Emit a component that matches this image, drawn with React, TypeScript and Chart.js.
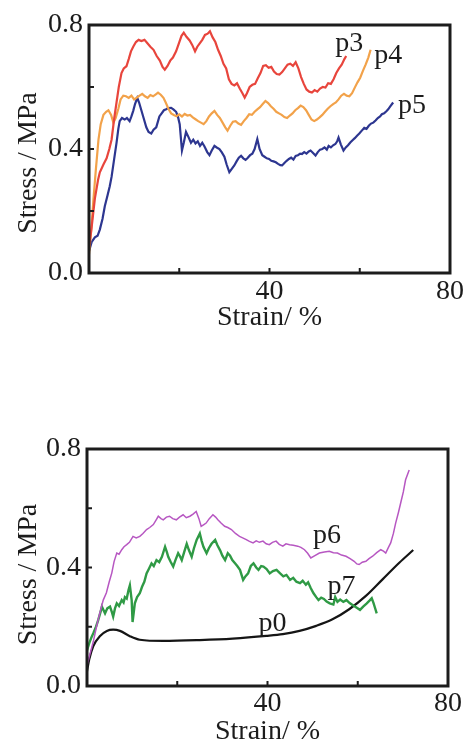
import React, { useEffect, useRef } from "react";
import { Chart, registerables } from "chart.js";

Chart.register(...registerables);

// ---------- Top panel data (Strain %, Stress MPa) ----------
const p3X = [0, 0.6, 1.3, 2.0, 2.4, 3.2, 3.9, 4.5, 5.0, 5.6, 6.1, 6.6, 7.2, 7.7, 8.3, 8.8, 9.3, 9.8, 10.4, 11.0, 11.6, 12.3, 12.9, 13.6, 14.3, 15.0, 15.7, 16.3, 16.8, 17.4, 18.0, 18.6, 19.3, 19.9, 20.5, 21.0, 21.6, 22.3, 22.9, 23.5, 24.0, 24.5, 25.1, 25.7, 26.3, 26.8, 27.4, 28.0, 28.6, 29.2, 29.8, 30.4, 31.0, 31.6, 32.2, 32.8, 33.4, 34.0, 34.5, 35.0, 35.6, 36.2, 36.8, 37.4, 38.0, 38.6, 39.2, 39.8, 40.4, 41.0, 41.6, 42.2, 42.8, 43.4, 44.0, 44.6, 45.2, 45.8, 46.4, 47.0, 47.6, 48.2, 48.8, 49.4, 50.0, 50.6, 51.2, 51.8, 52.4, 53.0, 53.6, 54.2, 54.8, 55.4, 56.0, 56.6, 57.0];
const p3Y = [0.08, 0.15, 0.24, 0.30, 0.325, 0.35, 0.37, 0.40, 0.43, 0.50, 0.55, 0.60, 0.645, 0.66, 0.667, 0.69, 0.715, 0.73, 0.745, 0.752, 0.748, 0.752, 0.742, 0.73, 0.72, 0.70, 0.685, 0.665, 0.656, 0.668, 0.685, 0.695, 0.715, 0.74, 0.765, 0.775, 0.762, 0.75, 0.735, 0.715, 0.73, 0.74, 0.752, 0.768, 0.772, 0.78, 0.76, 0.745, 0.72, 0.70, 0.675, 0.66, 0.625, 0.61, 0.605, 0.612, 0.595, 0.58, 0.566, 0.58, 0.60, 0.607, 0.61, 0.628, 0.645, 0.668, 0.67, 0.662, 0.665, 0.65, 0.642, 0.64, 0.648, 0.66, 0.672, 0.675, 0.668, 0.68, 0.66, 0.632, 0.61, 0.592, 0.585, 0.582, 0.59, 0.585, 0.595, 0.60, 0.598, 0.612, 0.61, 0.625, 0.645, 0.66, 0.672, 0.69, 0.70];

const p4X = [0, 0.5, 1.0, 1.5, 2.1, 2.6, 3.2, 3.8, 4.3, 4.9, 5.4, 5.9, 6.5, 7.0, 7.6, 8.2, 8.8, 9.4, 10.0, 10.6, 11.2, 11.8, 12.4, 13.0, 13.6, 14.2, 14.8, 15.3, 15.9, 16.5, 17.0, 17.6, 18.2, 18.8, 19.4, 20.0, 20.6, 21.2, 21.8, 22.4, 23.0, 23.6, 24.2, 24.8, 25.4, 26.0, 26.6, 27.2, 27.8, 28.4, 29.0, 29.6, 30.2, 30.7, 31.3, 31.9, 32.5, 33.1, 33.7, 34.3, 34.9, 35.5, 36.1, 36.7, 37.3, 37.9, 38.5, 39.1, 39.7, 40.3, 40.9, 41.5, 42.1, 42.7, 43.3, 43.9, 44.5, 45.1, 45.7, 46.3, 46.9, 47.5, 48.1, 48.7, 49.3, 49.9, 50.5, 51.1, 51.7, 52.3, 52.9, 53.5, 54.1, 54.7, 55.3, 55.9, 56.5, 57.1, 57.7, 58.3, 58.9, 59.5, 60.1, 60.7, 61.3, 61.9, 62.4];
const p4Y = [0.06, 0.14, 0.24, 0.33, 0.43, 0.48, 0.51, 0.52, 0.525, 0.51, 0.485, 0.50, 0.53, 0.56, 0.572, 0.57, 0.565, 0.572, 0.56, 0.566, 0.572, 0.578, 0.57, 0.565, 0.574, 0.57, 0.576, 0.582, 0.575, 0.565, 0.55, 0.53, 0.515, 0.51, 0.506, 0.512, 0.505, 0.513, 0.508, 0.51, 0.502, 0.496, 0.49, 0.485, 0.48, 0.49, 0.505, 0.515, 0.523, 0.51, 0.50, 0.485, 0.47, 0.459, 0.475, 0.488, 0.49, 0.482, 0.478, 0.49, 0.50, 0.512, 0.51, 0.52, 0.528, 0.535, 0.545, 0.555, 0.548, 0.538, 0.53, 0.52, 0.515, 0.51, 0.503, 0.50, 0.508, 0.515, 0.525, 0.532, 0.54, 0.535, 0.525, 0.51, 0.495, 0.49, 0.495, 0.502, 0.51, 0.52, 0.53, 0.538, 0.545, 0.55, 0.56, 0.572, 0.578, 0.572, 0.57, 0.58, 0.598, 0.615, 0.63, 0.652, 0.672, 0.695, 0.72];

const p5X = [0, 0.6, 1.3, 1.9, 2.4, 3.0, 3.5, 4.1, 4.6, 5.0, 5.5, 6.1, 6.5, 6.8, 7.3, 7.9, 8.4, 9.0, 9.4, 9.8, 10.2, 10.7, 11.1, 11.6, 12.1, 12.7, 13.2, 13.8, 14.3, 14.9, 15.3, 15.6, 16.1, 16.6, 17.1, 17.6, 18.2, 18.7, 19.3, 19.7, 20.1, 20.6, 21.0, 21.5, 22.0, 22.6, 23.1, 23.6, 24.1, 24.6, 25.1, 25.6, 26.2, 26.7, 27.2, 27.8, 28.3, 28.9, 29.4, 30.0, 30.5, 31.1, 31.6, 32.2, 32.7, 33.2, 33.7, 34.2, 34.7, 35.1, 35.7, 36.2, 36.7, 37.3, 37.8, 38.4, 38.9, 39.4, 39.9, 40.4, 40.9, 41.4, 41.9, 42.4, 42.8, 43.3, 43.8, 44.3, 44.8, 45.3, 45.8, 46.3, 46.8, 47.2, 47.7, 48.2, 48.7, 49.1, 49.6, 50.2, 50.7, 51.2, 51.7, 52.2, 52.7, 53.1, 53.6, 54.1, 54.6, 55.0, 55.3, 55.8, 56.4, 56.9, 57.4, 57.9, 58.4, 58.9, 59.4, 59.9, 60.5, 61.0, 61.5, 62.0, 62.5, 63.0, 63.5, 64.0, 64.5, 64.9, 65.4, 65.9, 66.3, 66.8, 67.4];
const p5Y = [0.07, 0.10, 0.115, 0.12, 0.14, 0.175, 0.215, 0.25, 0.28, 0.31, 0.36, 0.42, 0.465, 0.49, 0.50, 0.495, 0.50, 0.49, 0.505, 0.523, 0.545, 0.565, 0.55, 0.525, 0.50, 0.47, 0.455, 0.45, 0.462, 0.47, 0.49, 0.505, 0.515, 0.525, 0.528, 0.532, 0.533, 0.528, 0.52, 0.505, 0.48, 0.395, 0.42, 0.455, 0.44, 0.42, 0.43, 0.418, 0.425, 0.41, 0.42, 0.408, 0.39, 0.38, 0.395, 0.41, 0.405, 0.40, 0.39, 0.375, 0.35, 0.325, 0.335, 0.347, 0.36, 0.372, 0.378, 0.37, 0.365, 0.37, 0.38, 0.385, 0.40, 0.432, 0.40, 0.38, 0.375, 0.37, 0.368, 0.362, 0.36, 0.357, 0.352, 0.348, 0.347, 0.355, 0.362, 0.368, 0.372, 0.366, 0.378, 0.38, 0.385, 0.384, 0.39, 0.385, 0.392, 0.395, 0.388, 0.379, 0.39, 0.398, 0.40, 0.405, 0.398, 0.41, 0.405, 0.412, 0.416, 0.425, 0.437, 0.415, 0.395, 0.405, 0.412, 0.421, 0.428, 0.435, 0.443, 0.45, 0.46, 0.468, 0.465, 0.475, 0.482, 0.485, 0.492, 0.50, 0.505, 0.512, 0.515, 0.522, 0.528, 0.538, 0.55];

// ---------- Bottom panel data ----------
const p6X = [0, 0.7, 1.4, 2.1, 2.9, 3.6, 4.3, 4.9, 5.5, 6.0, 6.6, 7.1, 7.7, 8.2, 8.8, 9.4, 10.2, 10.9, 11.7, 12.4, 13.2, 13.9, 14.7, 15.3, 15.8, 16.4, 16.9, 17.6, 18.3, 19.0, 19.8, 20.5, 21.3, 22.0, 22.8, 23.5, 24.2, 24.8, 25.3, 25.9, 26.4, 27.1, 27.9, 28.5, 29.0, 29.7, 30.5, 31.2, 32.0, 32.9, 33.8, 34.5, 35.3, 36.0, 36.8, 37.5, 38.2, 39.0, 39.7, 40.4, 41.1, 41.9, 42.6, 43.4, 44.1, 44.9, 45.7, 46.7, 47.4, 48.2, 48.9, 49.6, 50.5, 51.5, 52.6, 53.7, 54.6, 55.5, 56.4, 57.4, 58.3, 59.2, 59.8, 60.3, 61.0, 61.8, 62.5, 63.3, 64.2, 65.1, 65.7, 66.2, 66.8, 67.3, 67.9, 68.4, 69.0, 69.5, 70.1, 70.6, 71.4];
const p6Y = [0.07, 0.11, 0.15, 0.20, 0.25, 0.29, 0.315, 0.35, 0.382, 0.42, 0.449, 0.445, 0.46, 0.47, 0.477, 0.485, 0.505, 0.50, 0.505, 0.515, 0.528, 0.535, 0.545, 0.56, 0.573, 0.565, 0.561, 0.57, 0.573, 0.565, 0.561, 0.57, 0.578, 0.568, 0.573, 0.58, 0.589, 0.565, 0.539, 0.545, 0.55, 0.565, 0.578, 0.57, 0.561, 0.55, 0.539, 0.535, 0.528, 0.515, 0.505, 0.50, 0.494, 0.488, 0.483, 0.49, 0.485, 0.489, 0.48, 0.477, 0.485, 0.489, 0.478, 0.472, 0.48, 0.477, 0.475, 0.472, 0.468, 0.46, 0.448, 0.432, 0.44, 0.449, 0.452, 0.455, 0.45, 0.449, 0.442, 0.438, 0.43, 0.421, 0.412, 0.41, 0.418, 0.421, 0.43, 0.438, 0.45, 0.46, 0.455, 0.449, 0.468, 0.483, 0.515, 0.55, 0.585, 0.617, 0.655, 0.696, 0.729];

const p7X = [0, 0.5, 1.0, 1.4, 2.0, 2.5, 3.0, 3.3, 3.7, 4.0, 4.5, 5.1, 5.5, 5.8, 6.2, 6.6, 7.1, 7.7, 8.1, 8.4, 8.8, 9.2, 9.5, 9.9, 10.1, 10.6, 11.1, 11.7, 12.2, 12.7, 13.2, 13.7, 14.3, 14.8, 15.4, 16.0, 16.6, 17.3, 17.7, 18.0, 18.5, 19.1, 19.6, 20.2, 20.6, 21.0, 21.5, 22.1, 22.6, 23.2, 23.7, 24.3, 25.0, 25.4, 25.8, 26.5, 27.0, 27.6, 28.4, 28.9, 29.5, 30.0, 30.6, 31.2, 31.7, 32.2, 32.8, 33.3, 33.9, 34.6, 35.1, 35.7, 36.3, 36.9, 37.5, 38.0, 38.6, 39.1, 39.8, 40.5, 41.2, 42.0, 42.8, 43.5, 44.2, 45.0, 45.7, 46.4, 47.2, 47.8, 48.5, 49.0, 49.6, 50.2, 50.8, 51.3, 51.9, 52.5, 53.1, 53.8, 54.6, 55.0, 55.5, 56.1, 56.8, 57.5, 58.2, 59.0, 59.7, 60.5, 61.2, 62.0, 62.6, 63.1, 63.5, 63.8, 64.2];
const p7Y = [0.12, 0.145, 0.165, 0.178, 0.20, 0.223, 0.25, 0.268, 0.255, 0.245, 0.262, 0.268, 0.25, 0.234, 0.262, 0.279, 0.27, 0.29, 0.282, 0.30, 0.295, 0.324, 0.34, 0.29, 0.216, 0.279, 0.30, 0.313, 0.335, 0.352, 0.38, 0.395, 0.414, 0.405, 0.425, 0.418, 0.436, 0.47, 0.452, 0.436, 0.42, 0.403, 0.425, 0.448, 0.438, 0.425, 0.45, 0.48, 0.458, 0.436, 0.465, 0.493, 0.515, 0.49, 0.47, 0.448, 0.465, 0.48, 0.493, 0.475, 0.458, 0.44, 0.425, 0.448, 0.44, 0.425, 0.414, 0.405, 0.392, 0.358, 0.37, 0.38, 0.405, 0.414, 0.40, 0.392, 0.405, 0.403, 0.395, 0.38, 0.388, 0.392, 0.38, 0.37, 0.375, 0.358, 0.365, 0.352, 0.347, 0.355, 0.342, 0.35, 0.33, 0.313, 0.30, 0.29, 0.298, 0.294, 0.285, 0.279, 0.275, 0.30, 0.284, 0.292, 0.284, 0.29, 0.28, 0.272, 0.265, 0.257, 0.268, 0.279, 0.288, 0.296, 0.28, 0.265, 0.245];

const p0X = [0, 0.5, 1.4, 2.9, 4.4, 5.8, 7.3, 9.5, 11.7, 16.9, 25, 32.3, 39.7, 43.4, 47.1, 50.8, 54.4, 58.1, 61.8, 65.5, 69.2, 72.3];
const p0Y = [0.05, 0.09, 0.135, 0.169, 0.186, 0.19, 0.186, 0.168, 0.156, 0.152, 0.155, 0.16, 0.169, 0.175, 0.186, 0.203, 0.225, 0.259, 0.304, 0.36, 0.416, 0.459];

// tick values
const X_MINOR = [20, 40, 60];
const Y_MINOR = [0.2, 0.4, 0.6];
const X_LABELED = [40, 80];
const Y_LABELED = [0, 0.4, 0.8];

const SERIF = "'Liberation Serif', 'Times New Roman', Times, serif";
const INK = "#1c1c1c";
const NB = "\u00a0";

const pts = (xs: number[], ys: number[]) => xs.map((x, i) => ({ x, y: ys[i] }));

const framePlugin = {
  id: "frame",
  afterDatasetsDraw(chart: any, _args: any, opts: any) {
    const { ctx, chartArea: a, scales } = chart;
    ctx.save();
    ctx.strokeStyle = INK;
    ctx.lineWidth = 3;
    ctx.strokeRect(a.left, a.top, a.right - a.left, a.bottom - a.top);
    ctx.lineWidth = 2;
    ctx.beginPath();
    for (const v of X_MINOR) {
      const px = scales.x.getPixelForValue(v);
      ctx.moveTo(px, a.bottom);
      ctx.lineTo(px, a.bottom - 5);
    }
    for (const v of Y_MINOR) {
      const py = scales.y.getPixelForValue(v);
      ctx.moveTo(a.left, py);
      ctx.lineTo(a.left + 5, py);
    }
    ctx.stroke();
    ctx.fillStyle = INK;
    ctx.font = `28px ${SERIF}`;
    ctx.textAlign = "center";
    ctx.textBaseline = "middle";
    for (const l of opts.labels || []) {
      ctx.fillText(l.text, scales.x.getPixelForValue(l.x), scales.y.getPixelForValue(l.y));
    }
    ctx.restore();
  },
};

function near(v: number, list: number[]) {
  return list.some((t) => Math.abs(t - v) < 1e-6);
}

function makeConfig(datasets: any[], labels: any[], g: any) {
  const font = { family: SERIF, size: 28 };
  return {
    type: "line",
    data: { datasets },
    plugins: [framePlugin],
    options: {
      animation: false,
      responsive: false,
      layout: { padding: { left: 0, right: g.right, top: g.top, bottom: g.bottom } },
      elements: { point: { radius: 0 }, line: { tension: 0 } },
      plugins: { legend: { display: false }, tooltip: { enabled: false }, frame: { labels } },
      scales: {
        x: {
          type: "linear",
          min: 0,
          max: 80,
          afterFit: (s: any) => { s.height = g.xH; },
          grid: { display: false, drawTicks: false },
          border: { display: false },
          ticks: {
            stepSize: 20,
            autoSkip: false,
            maxRotation: 0,
            padding: g.xPad,
            color: INK,
            font,
            callback: (v: number) => (near(v, X_LABELED) ? String(v) : ""),
          },
          title: { display: true, text: "Strain/ %", color: INK, font, padding: { top: 0, bottom: 0 } },
        },
        y: {
          type: "linear",
          min: 0,
          max: 0.8,
          afterFit: (s: any) => { s.width = g.yW; },
          grid: { display: false, drawTicks: false },
          border: { display: false },
          ticks: {
            stepSize: 0.2,
            autoSkip: false,
            padding: 6,
            color: INK,
            font,
            callback: (v: number) => (near(v, Y_LABELED) ? Number(v).toFixed(1) : ""),
          },
          title: { display: true, text: "Stress / MPa" + NB.repeat(g.yShift), color: INK, font, padding: { top: 12, bottom: 0 } },
        },
      },
    },
  };
}

function Panel({ config, top, height }: { config: any; top: number; height: number }) {
  const ref = useRef<HTMLCanvasElement>(null);
  useEffect(() => {
    const chart = new Chart(ref.current as HTMLCanvasElement, config);
    return () => chart.destroy();
  }, []);
  return (
    <canvas
      ref={ref}
      width={467}
      height={height}
      style={{ position: "absolute", left: 0, top, width: 467, height, display: "block" }}
    />
  );
}

const line = (xs: number[], ys: number[], color: string, w: number, mono = false) => ({
  data: pts(xs, ys),
  borderColor: color,
  borderWidth: w,
  pointRadius: 0,
  fill: false,
  cubicInterpolationMode: mono ? "monotone" : "default",
  tension: mono ? 0.4 : 0,
});

export default function App() {
  const topCfg = makeConfig(
    [
      line(p3X, p3Y, "#e8453c", 2.2),
      line(p4X, p4Y, "#f2a24a", 2.2),
      line(p5X, p5Y, "#2d3690", 2.2),
    ],
    [
      { text: "p3", x: 57.7, y: 0.74 },
      { text: "p4", x: 66.3, y: 0.70 },
      { text: "p5", x: 71.6, y: 0.54 },
    ],
    { right: 17, top: 25, bottom: 6, xH: 61, yW: 89, xPad: 2, yShift: 4 }
  );
  const botCfg = makeConfig(
    [
      line(p6X, p6Y, "#b757c2", 1.5),
      line(p7X, p7Y, "#2f9a45", 2.4),
      line(p0X, p0Y, "#151515", 2.2, true),
    ],
    [
      { text: "p6", x: 53.2, y: 0.506 },
      { text: "p7", x: 56.4, y: 0.334 },
      { text: "p0", x: 41.1, y: 0.209 },
    ],
    { right: 19, top: 69, bottom: 0, xH: 62, yW: 87, xPad: 1, yShift: 2 }
  );
  return (
    <div style={{ position: "absolute", left: 0, top: 0, width: 467, height: 744, overflow: "hidden", background: "#fff" }}>
      <Panel config={topCfg} top={0} height={340} />
      <Panel config={botCfg} top={380} height={368} />
    </div>
  );
}
